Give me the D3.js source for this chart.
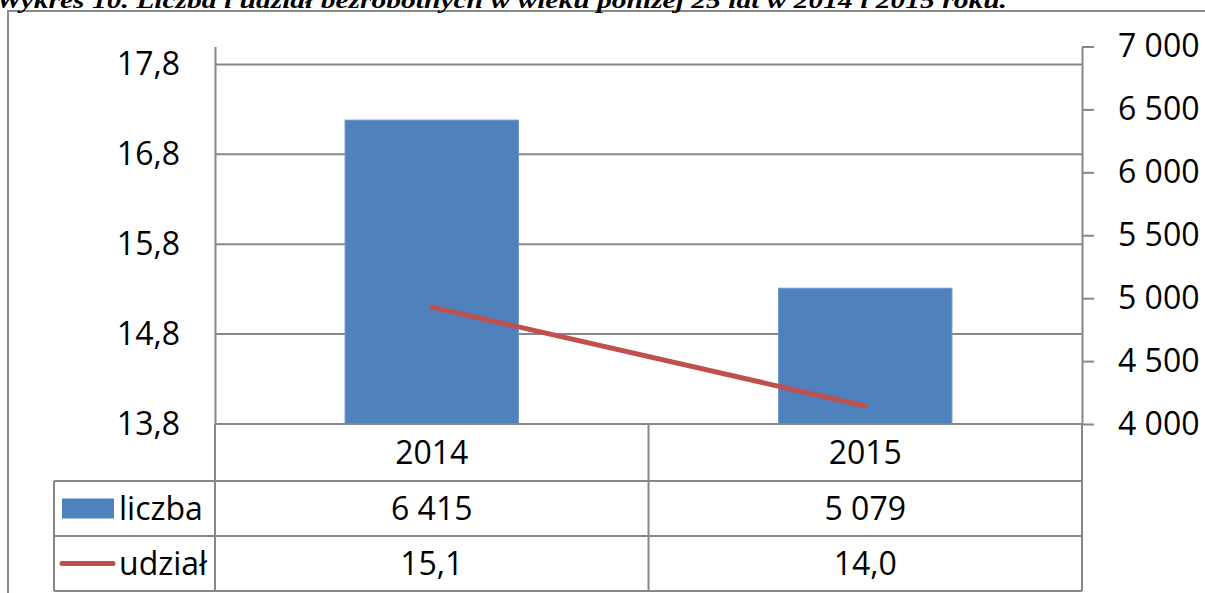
<!DOCTYPE html>
<html>
<head>
<meta charset="utf-8">
<script src="https://cdn.jsdelivr.net/npm/d3@7"></script>
<style>
  html, body { margin: 0; padding: 0; background: #fff; }
  svg { display: block; }
  text { font-family: "Open Sans", sans-serif; fill: #000; }
</style>
</head>
<body>
<svg id="chart" width="1205" height="593"></svg>
<script>
// ---- data ----
const title = "Wykres 10. Liczba i udział bezrobotnych w wieku poniżej 25 lat w 2014 i 2015 roku.";
const categories = ["2014", "2015"];
const liczba = [6415, 5079];
const udzial = [15.1, 14.0];
const seriesNames = ["liczba", "udział"];
const leftTicks = [13.8, 14.8, 15.8, 16.8, 17.8];
const rightTicks = [4000, 4500, 5000, 5500, 6000, 6500, 7000];

// ---- setup ----
const locale = d3.formatLocale({decimal: ",", thousands: "\u00a0", grouping: [3], currency: ["", ""]});
const fmt1 = locale.format(".1f");
const fmtInt = locale.format(",d");

const svg = d3.select("#chart");
const colBar = "#4F81BD", colLine = "#C0504D", colGrid = "#878787";

const plot = {left: 215, right: 1082, top: 46.5, bottom: 424};
const table = {left: 54, row1: 481, row2: 536, row3: 591};

const x = d3.scaleBand().domain(categories).range([plot.left, plot.right]).padding(0);
const yL = d3.scaleLinear().domain([13.8, 18.0]).range([plot.bottom, plot.top]);
const yR = d3.scaleLinear().domain([4000, 7000]).range([plot.bottom, plot.top]);
const barW = x.bandwidth() * 0.4;

// outer border
svg.append("rect").attr("x", 8).attr("y", 11).attr("width", 1220).attr("height", 600)
  .attr("fill", "none").attr("stroke", "#8a8a8a").attr("stroke-width", 2);

// title
svg.append("text").attr("x", -4).attr("y", 8)
  .attr("textLength", 1011).attr("lengthAdjust", "spacingAndGlyphs")
  .style("font-family", "'Liberation Serif', 'Times New Roman', serif")
  .style("font-weight", "bold").style("font-style", "italic").style("font-size", "24px")
  .text(title);

// gridlines (left axis)
svg.append("g").selectAll("line").data(leftTicks).join("line")
  .attr("x1", plot.left).attr("x2", plot.right)
  .attr("y1", d => yL(d)).attr("y2", d => yL(d))
  .attr("stroke", colGrid).attr("stroke-width", 2);

// bars
svg.append("g").selectAll("rect").data(categories).join("rect")
  .attr("x", d => x(d) + (x.bandwidth() - barW) / 2)
  .attr("width", barW)
  .attr("y", (d, i) => yR(liczba[i]))
  .attr("height", (d, i) => plot.bottom - yR(liczba[i]))
  .attr("fill", colBar).attr("stroke", "#6e97cf").attr("stroke-width", 1);

// line
const line = d3.line().x((d, i) => x(categories[i]) + x.bandwidth() / 2).y(d => yL(d));
svg.append("path").datum(udzial).attr("d", line)
  .attr("fill", "none").attr("stroke", colLine).attr("stroke-width", 5).attr("stroke-linecap", "round");

// left axis
const axL = svg.append("g").attr("transform", `translate(${plot.left},0)`)
  .call(d3.axisLeft(yL).tickValues(leftTicks).tickFormat(fmt1).tickSize(0).tickPadding(35));
axL.select(".domain").attr("stroke", colGrid).attr("stroke-width", 2);
axL.selectAll("text").style("font-size", "32px").style("font-family", "'Open Sans', sans-serif");

// right axis
const axR = svg.append("g").attr("transform", `translate(${plot.right},0)`)
  .call(d3.axisRight(yR).tickValues(rightTicks).tickFormat(fmtInt).tickSizeInner(12).tickSizeOuter(0).tickPadding(24));
axR.select(".domain").attr("stroke", colGrid).attr("stroke-width", 2);
axR.selectAll(".tick line").attr("stroke", colGrid).attr("stroke-width", 2);
axR.selectAll("text").style("font-size", "32px").style("font-family", "'Open Sans', sans-serif");

// data table grid
const g = svg.append("g").attr("stroke", colGrid).attr("stroke-width", 2);
g.append("line").attr("x1", plot.left).attr("x2", plot.right).attr("y1", plot.bottom).attr("y2", plot.bottom);
[table.row1, table.row2, table.row3].forEach(yy =>
  g.append("line").attr("x1", table.left).attr("x2", plot.right).attr("y1", yy).attr("y2", yy));
g.append("line").attr("x1", table.left).attr("x2", table.left).attr("y1", table.row1).attr("y2", table.row3);
g.append("line").attr("x1", plot.left).attr("x2", plot.left).attr("y1", plot.bottom).attr("y2", table.row3);
g.append("line").attr("x1", plot.right).attr("x2", plot.right).attr("y1", plot.bottom).attr("y2", table.row3);
categories.slice(1).forEach(c =>
  g.append("line").attr("x1", x(c)).attr("x2", x(c)).attr("y1", plot.bottom).attr("y2", table.row3));

// header row: categories
const rowsY = [(plot.bottom + table.row1) / 2, (table.row1 + table.row2) / 2, (table.row2 + table.row3) / 2];
svg.append("g").selectAll("text").data(categories).join("text")
  .attr("x", d => x(d) + x.bandwidth() / 2).attr("y", rowsY[0]).attr("dy", "0.36em")
  .attr("text-anchor", "middle").style("font-size", "32px").text(d => d);

// liczba row
svg.append("g").selectAll("text").data(liczba).join("text")
  .attr("x", (d, i) => x(categories[i]) + x.bandwidth() / 2).attr("y", rowsY[1]).attr("dy", "0.36em")
  .attr("text-anchor", "middle").style("font-size", "32px").text(d => fmtInt(d));

// udzial row
svg.append("g").selectAll("text").data(udzial).join("text")
  .attr("x", (d, i) => x(categories[i]) + x.bandwidth() / 2).attr("y", rowsY[2]).attr("dy", "0.36em")
  .attr("text-anchor", "middle").style("font-size", "32px").text(d => fmt1(d));

// legend keys
svg.append("rect").attr("x", 62).attr("y", rowsY[1] - 10).attr("width", 52).attr("height", 20).attr("fill", colBar);
svg.append("line").attr("x1", 62).attr("x2", 113).attr("y1", rowsY[2]).attr("y2", rowsY[2])
  .attr("stroke", colLine).attr("stroke-width", 5).attr("stroke-linecap", "round");
svg.append("text").attr("x", 119).attr("y", rowsY[1]).attr("dy", "0.36em").style("font-size", "32px").text(seriesNames[0]);
svg.append("text").attr("x", 119).attr("y", rowsY[2]).attr("dy", "0.36em").style("font-size", "32px").text(seriesNames[1]);
</script>
</body>
</html>
